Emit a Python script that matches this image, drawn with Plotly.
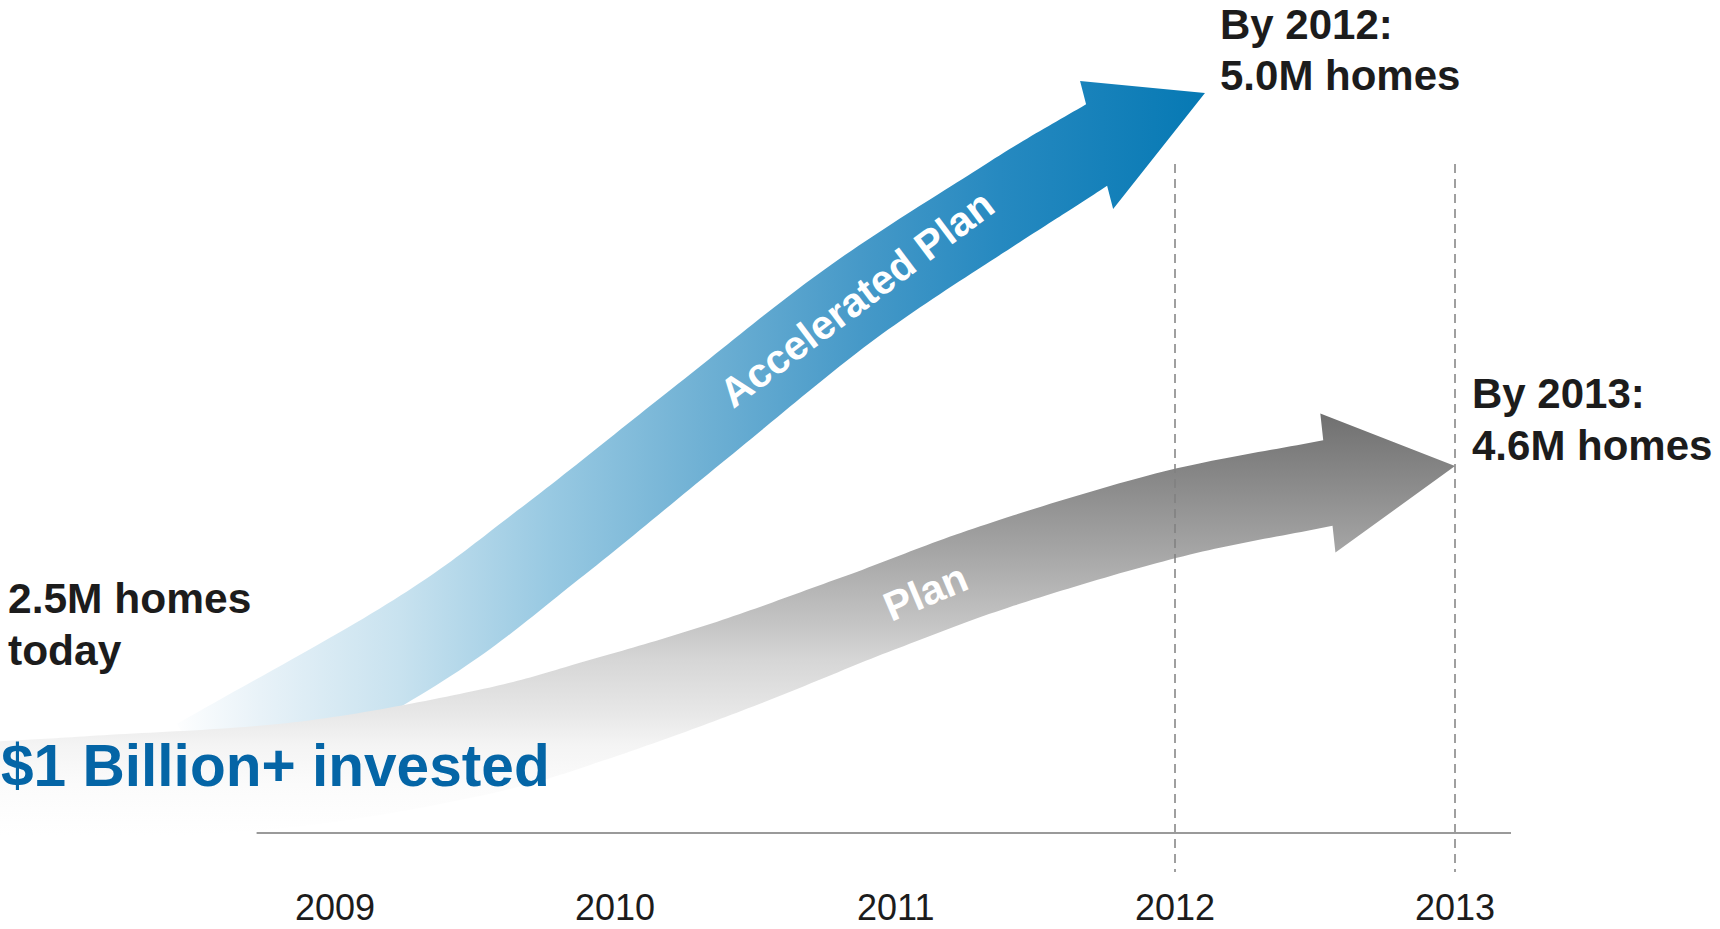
import numpy as np
import plotly.graph_objects as go

# ---------------- data ----------------
years = [2009, 2010, 2011, 2012, 2013]
year_labels = ["2009", "2010", "2011", "2012", "2013"]
target_years = [2012, 2013]

start_lines = ["2.5M homes", "today"]
accel_lines = ["By 2012:", "5.0M homes"]
plan_lines = ["By 2013:", "4.6M homes"]
invest_text = "$1 Billion+ invested"
accel_name = "Accelerated Plan"
plan_name = "Plan"

# Arrow spines: x in years, y in canvas rows (0 = top), band width in px
accel_spine_x = [2008.52, 2009.30, 2009.77, 2010.30, 2010.84, 2011.38, 2011.72]
accel_spine_y = [765, 640, 543, 424, 304, 204, 145]
accel_widths = [95, 95, 92, 89, 86, 84, 84]
accel_tip = (2012.107, 93)

plan_spine_x = [2007.73, 2008.16, 2008.875, 2009.53, 2009.946, 2010.42,
                2010.90, 2011.375, 2011.993, 2012.546]
plan_spine_y = [795, 788, 774, 742, 709, 665, 614, 565, 514, 483]
plan_widths = [105, 105, 104, 104, 100, 92, 86, 86, 87, 86]
plan_tip = (2013.0, 466)

# ---------------- canvas ----------------
W, H = 1720, 929
PX_PER_YEAR = 280.0
X0 = 2009 - 335 / PX_PER_YEAR
X1 = X0 + W / PX_PER_YEAR

FONT = "Liberation Sans, Arial, Helvetica, sans-serif"
DARK = "#1c1c1c"
BLUE_TEXT = "#0465a6"


def catmull_rom(pts, vals, n=24):
    pts = np.asarray(pts, float)
    vals = np.asarray(vals, float)
    ext = np.vstack([2 * pts[0] - pts[1], pts, 2 * pts[-1] - pts[-2]])
    out, wout = [], []
    t = np.linspace(0, 1, n, endpoint=False)[:, None]
    for i in range(1, len(ext) - 2):
        p0, p1, p2, p3 = ext[i - 1], ext[i], ext[i + 1], ext[i + 2]
        seg = 0.5 * (2 * p1 + (-p0 + p2) * t + (2 * p0 - 5 * p1 + 4 * p2 - p3) * t ** 2
                     + (-p0 + 3 * p1 - 3 * p2 + p3) * t ** 3)
        out.append(seg)
        wout.append(vals[i - 1] + (vals[i] - vals[i - 1]) * t[:, 0])
    out.append(pts[-1][None, :])
    wout.append(vals[-1:])
    return np.vstack(out), np.concatenate(wout), n


def to_px(x):
    return (np.asarray(x, float) - X0) * PX_PER_YEAR


def arrow_outline(xs, ys, widths, tip, head_half, barb_tilt):
    """Curved band along the spine, closed by an arrowhead.

    barb_tilt: direction (deg, screen space) the barb line is square to."""
    pts = np.column_stack([to_px(xs), ys])
    spine, w, n = catmull_rom(pts, widths)
    tang = np.gradient(spine, axis=0)
    tang /= np.linalg.norm(tang, axis=1)[:, None]
    fwd = np.array([np.cos(np.radians(barb_tilt)), np.sin(np.radians(barb_tilt))])
    # ease the band's last stretch into the arrowhead base
    blend = np.zeros(len(spine))
    blend[-n:] = np.linspace(0, 1, n)
    tang = tang * (1 - blend)[:, None] + fwd[None, :] * blend[:, None]
    tang /= np.linalg.norm(tang, axis=1)[:, None]
    nrm = np.column_stack([tang[:, 1], -tang[:, 0]])
    upper = spine + nrm * (w / 2)[:, None]
    lower = spine - nrm * (w / 2)[:, None]
    tip_px = np.array([to_px(tip[0]), tip[1]], float)
    base, nh = spine[-1], nrm[-1]
    poly = np.vstack([upper, base + nh * head_half, tip_px,
                      base - nh * head_half, lower[::-1], upper[:1]])
    return poly[:, 0] / PX_PER_YEAR + X0, poly[:, 1], spine


def point_on_spine(spine, year):
    i = int(np.argmin(np.abs(spine[:, 0] - to_px(year))))
    return spine[i, 0] / PX_PER_YEAR + X0, spine[i, 1]


ax, ay, a_spine = arrow_outline(accel_spine_x, accel_spine_y, accel_widths,
                                accel_tip, 66, -14.5)
px_, py_, p_spine = arrow_outline(plan_spine_x, plan_spine_y, plan_widths,
                                  plan_tip, 70, -6.2)

fig = go.Figure()

# Accelerated plan: light-to-deep blue along the arrow
fig.add_trace(go.Scatter(
    x=ax, y=ay, mode="none", fill="toself", hoverinfo="skip",
    fillgradient=dict(
        type="horizontal", start=2008.411, stop=accel_tip[0],
        colorscale=[[0.0, "rgb(255,255,255)"], [0.087, "rgb(232,242,248)"],
                    [0.222, "rgb(200,226,239)"], [0.367, "rgb(152,201,226)"],
                    [0.512, "rgb(112,177,212)"], [0.667, "rgb(70,153,200)"],
                    [0.802, "rgb(38,137,192)"], [1.0, "rgb(6,121,180)"]],
    ),
))

# Plan: grey, darker toward the top
fig.add_trace(go.Scatter(
    x=px_, y=py_, mode="none", fill="toself", hoverinfo="skip",
    fillgradient=dict(
        type="vertical", start=414, stop=835,
        colorscale=[[0.0, "rgb(112,112,112)"], [0.176, "rgb(140,140,140)"],
                    [0.33, "rgb(166,166,166)"], [0.513, "rgb(199,199,199)"],
                    [0.584, "rgb(214,214,214)"], [0.708, "rgb(231,231,231)"],
                    [0.786, "rgb(244,244,244)"], [0.88, "rgb(251,251,251)"],
                    [1.0, "rgb(255,255,255)"]],
    ),
))

# Dashed markers at the target years
for yr in target_years:
    fig.add_trace(go.Scatter(
        x=[yr, yr], y=[164, 872], mode="lines", hoverinfo="skip",
        line=dict(color="#808080", width=1.5, dash="9px,6px"),
    ))

# Time axis baseline
fig.add_trace(go.Scatter(
    x=[2008.72, 2013.2], y=[833, 833], mode="lines", hoverinfo="skip",
    line=dict(color="#9a9a9a", width=2.2),
))

annotations = []


def text(x, baseline, s, size, color=DARK, bold=True, xanchor="left"):
    annotations.append(dict(
        x=x, y=baseline - 0.3465 * size, xref="x", yref="y", text=s,
        showarrow=False, xanchor=xanchor, yanchor="middle", borderpad=0,
        font=dict(family=FONT, size=size, color=color,
                  weight="bold" if bold else "normal"),
    ))


for yr, lab in zip(years, year_labels):
    text(yr, 920, lab, 36, bold=False, xanchor="center")

for i, s in enumerate(start_lines):
    text(2007.830, 613 + 52 * i, s, 42.5)
for i, s in enumerate(accel_lines):
    text(2012.157, 39 + 51 * i, s, 42)
for i, s in enumerate(plan_lines):
    text(2013.058, 408 + 52 * i, s, 42)

text(2007.805, 786, invest_text, 58.6, color=BLUE_TEXT)

for spine, yr, ang, name in [(a_spine, 2010.86, -37, accel_name),
                             (p_spine, 2011.118, -23, plan_name)]:
    lx, ly = point_on_spine(spine, yr)
    annotations.append(dict(
        x=lx, y=ly, xref="x", yref="y", text=name, showarrow=False,
        xanchor="center", yanchor="middle", textangle=ang, borderpad=0,
        font=dict(family=FONT, size=41, color="white", weight="bold"),
    ))

fig.update_layout(
    width=W, height=H, autosize=False,
    margin=dict(l=0, r=0, t=0, b=0),
    paper_bgcolor="white", plot_bgcolor="white",
    showlegend=False,
    xaxis=dict(range=[X0, X1], visible=False, fixedrange=True),
    yaxis=dict(range=[H, 0], visible=False, fixedrange=True),
    annotations=annotations,
)

fig.write_html("out.html")
